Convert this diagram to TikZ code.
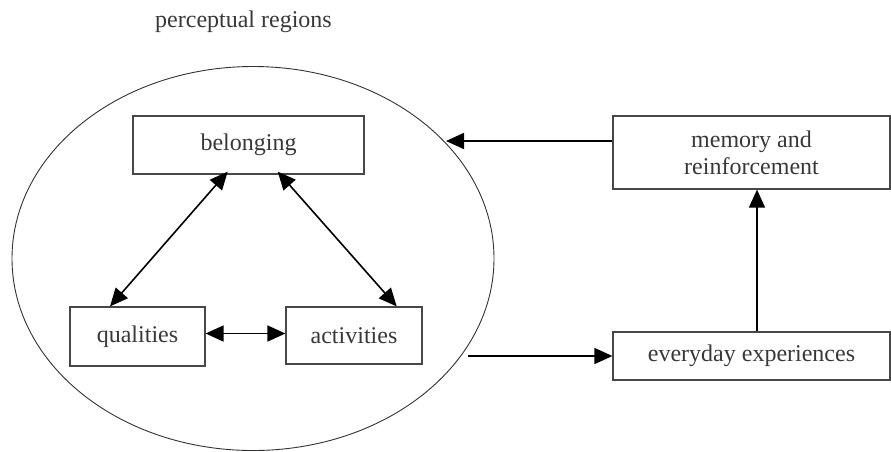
\documentclass[tikz,border=0pt]{standalone}
\usepackage{fontspec}
\setmainfont{Liberation Serif}
\usetikzlibrary{arrows.meta,shapes.geometric}
\begin{document}
\begin{tikzpicture}[x=1pt,y=-1pt,
  txt/.style={text=black!78,font=\fontsize{24}{27}\selectfont},
  box/.style={draw=black!72,line width=1.2pt,rectangle,inner sep=0pt,txt,align=center},
  arr/.style={line width=1.6pt,-{Triangle[length=18pt,width=16pt]}},
  biarr/.style={line width=1.6pt,{Triangle[length=18pt,width=16pt]}-{Triangle[length=18pt,width=16pt]}}]
\useasboundingbox (0,0) rectangle (891,451);
\node[txt] (title) at (243.5,22) {perceptual regions};
\node[draw=black!80,line width=0.9pt,ellipse,minimum width=482pt,minimum height=384pt,inner sep=0pt] (reg) at (253,258.5) {};
\node[box,minimum width=231pt,minimum height=58pt] (bel) at (248.5,145) {belonging};
\node[box,minimum width=135pt,minimum height=59pt] (qual) at (137.5,336.5) {qualities};
\node[box,minimum width=136pt,minimum height=57pt] (act) at (354,335.5) {activities};
\node[box,minimum width=277pt,minimum height=73pt] (mem) at (751.5,152.5) {memory and\\reinforcement};
\node[box,minimum width=277pt,minimum height=48pt] (ev) at (751.5,356) {everyday experiences};
\coordinate (memtip) at (446,141);
\coordinate (evstart) at (468,356);
\draw[biarr] ([xshift=-20.8pt,yshift=3pt]bel.south) -- ([xshift=-27.5pt]qual.north);
\draw[biarr] ([xshift=29.2pt,yshift=3pt]bel.south) -- ([xshift=42.7pt]act.north);
\draw[biarr] ([yshift=3pt]qual.east) -- ([yshift=2pt]act.west);
\draw[arr] ([yshift=11.5pt]mem.west) -- (memtip);
\draw[arr] (evstart) -- (ev.west);
\draw[arr] ([xshift=5.5pt]ev.north) -- ([xshift=5.5pt]mem.south);
\end{tikzpicture}
\end{document}
